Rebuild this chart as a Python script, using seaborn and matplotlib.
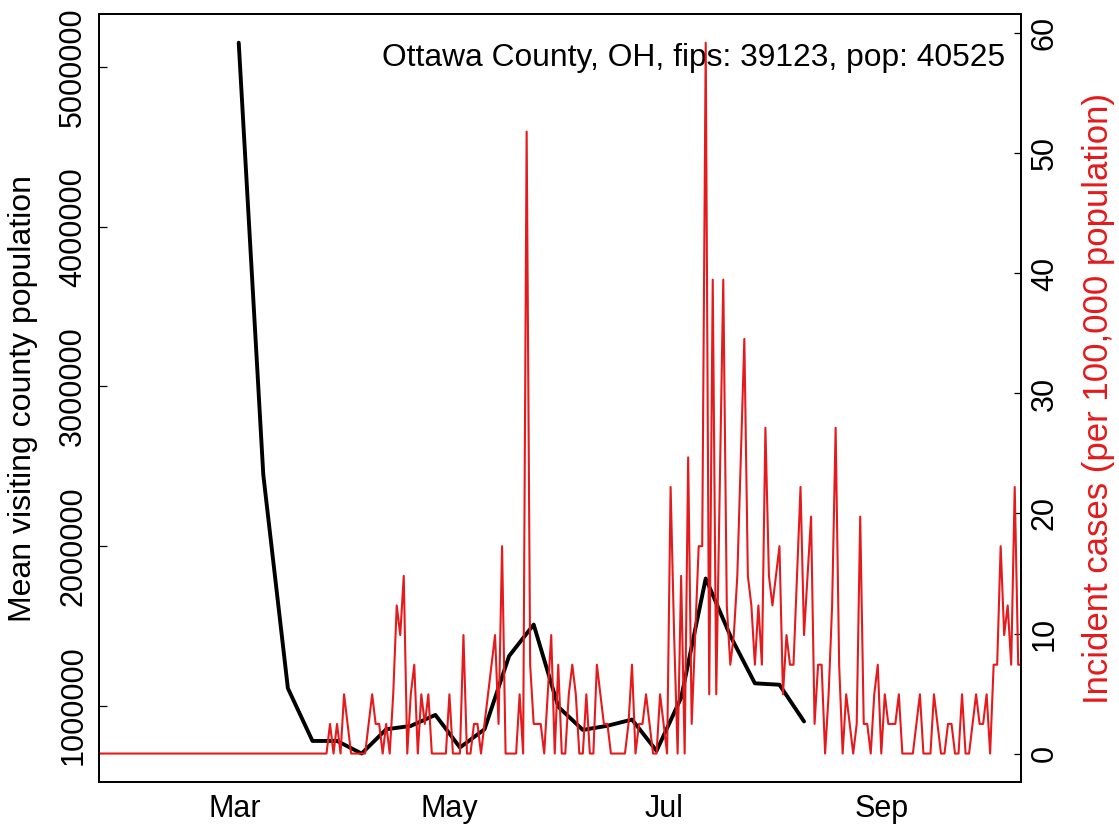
import numpy as np
import pandas as pd
import matplotlib
matplotlib.use("Agg")
import matplotlib.pyplot as plt
import matplotlib.dates as mdates
import seaborn as sns

sns.set_style("white")
plt.rcParams['font.family'] = ['Liberation Sans', 'DejaVu Sans']
plt.rcParams['text.color'] = 'black'
plt.rcParams['axes.labelcolor'] = 'black'
plt.rcParams['xtick.color'] = 'black'
plt.rcParams['ytick.color'] = 'black'

county_label = "Ottawa County, OH, fips: 39123, pop: 40525"
county_pop = 40525
red = "#E41A1C"

# weekly mean visiting county population, Mondays from 2020-03-02
visit_start = "2020-03-02"
visit_pop = [5153000, 2445000, 1108000, 778000, 778000, 699000, 851000, 872000,
             941000, 737000, 851000, 1310000, 1507000, 992000, 847000, 873000,
             912000, 716000, 1049000, 1796000, 1437000, 1139000, 1130000, 900000]

# daily new cases from 2020-01-22
case_start = "2020-01-22"
cases_jan_feb = [0, 0, 0, 0, 0, 0, 0, 0, 0, 0,
                 0, 0, 0, 0, 0, 0, 0, 0, 0, 0, 0, 0, 0, 0, 0, 0, 0, 0, 0,
                 0, 0, 0, 0, 0, 0, 0, 0, 0, 0]
cases_mar = [0, 0, 0, 0, 0, 0, 0, 0, 0, 0, 0, 0, 0, 0, 0, 0, 0, 0, 0, 0,
             0, 0, 0, 0, 0, 0, 0, 1, 0, 1, 0]
cases_apr = [2, 1, 0, 0, 0, 0, 0, 1, 2, 1, 1, 0, 1, 0, 2, 5, 4, 6, 0, 2,
             3, 0, 2, 1, 2, 0, 0, 0, 0, 0]
cases_may = [2, 0, 0, 0, 4, 0, 0, 1, 1, 0, 1, 2, 3, 4, 1, 7, 0, 0, 0, 0,
             2, 0, 21, 3, 1, 1, 1, 0, 2, 4, 0]
cases_jun = [3, 0, 0, 2, 3, 2, 0, 0, 2, 0, 0, 3, 2, 1, 1, 0, 0, 0, 0, 0,
             1, 3, 0, 1, 1, 2, 1, 0, 0, 2]
cases_jul = [1, 0, 9, 4, 0, 6, 0, 10, 1, 4, 7, 7, 24, 2, 16, 2, 9, 16, 5, 3,
             4, 6, 10, 14, 6, 5, 3, 5, 3, 11, 6]
cases_aug = [5, 6, 7, 2, 4, 3, 3, 6, 9, 4, 6, 8, 1, 3, 3, 0, 2, 5, 11, 3,
             0, 2, 1, 0, 1, 8, 1, 1, 0, 2, 3]
cases_sep = [0, 2, 1, 1, 1, 2, 0, 0, 0, 0, 1, 2, 0, 0, 0, 2, 1, 0, 0, 1,
             1, 0, 0, 2, 0, 0, 1, 2, 1, 1]
cases_oct = [2, 0, 3, 3, 7, 4, 5, 3, 9, 3, 3]

cases = cases_jan_feb + cases_mar + cases_apr + cases_may + cases_jun + cases_jul + cases_aug + cases_sep + cases_oct
case_dates = pd.date_range(case_start, periods=len(cases), freq="D")
incidence = np.array(cases) * 1e5 / county_pop
visit_dates = pd.date_range(visit_start, periods=len(visit_pop), freq="7D")


def r_range(lo, hi):
    # R style 4% padding
    d = (hi - lo) * 0.04
    return lo - d, hi + d


fig = plt.figure(figsize=(11.19, 8.31), dpi=100)
ax = fig.add_axes([0.0887, 0.0590, 0.8235, 0.9238])

sns.lineplot(x=visit_dates, y=visit_pop, ax=ax, color="black", linewidth=2.8,
             solid_joinstyle="round", solid_capstyle="round")
ax2 = ax.twinx()
sns.lineplot(x=case_dates, y=incidence, ax=ax2, color=red, linewidth=1.5)

x0, x1 = r_range(mdates.date2num(pd.Timestamp("2020-02-01")), mdates.date2num(pd.Timestamp("2020-10-01")))
ax.set_xlim(x0, x1)
ax.set_ylim(*r_range(min(visit_pop), max(visit_pop)))
ax2.set_ylim(*r_range(0, max(incidence)))

ax.xaxis.set_major_locator(mdates.MonthLocator(bymonth=[3, 5, 7, 9]))
ax.xaxis.set_major_formatter(mdates.DateFormatter("%b"))

left_ticks = [1000000, 2000000, 3000000, 4000000, 5000000]
ax.set_yticks(left_ticks)
ax.set_yticklabels([str(t) for t in left_ticks], rotation=90, va="center")
right_ticks = [0, 10, 20, 30, 40, 50, 60]
ax2.set_yticks(right_ticks)
ax2.set_yticklabels([str(t) for t in right_ticks], rotation=90, va="center")

ax.tick_params(axis="x", direction="in", length=5.4, width=0.9, labelsize=22, pad=8.5, color="black")
ax.tick_params(axis="y", direction="in", length=5.4, width=0.9, labelsize=22, pad=8, color="black")
ax2.tick_params(axis="y", direction="in", length=5.4, width=0.9, labelsize=22, pad=6.5, color="black")

ax.set_xlabel("")
ax.set_ylabel("Mean visiting county population", fontsize=23)
ax.yaxis.set_label_coords(-0.066, 0.5)
ax2.set_ylabel("Incident cases (per 100,000 population)", fontsize=25, color=red)
ax2.yaxis.set_label_coords(1.0665, 0.5)

for a in (ax, ax2):
    for s in a.spines.values():
        s.set_color("black")
        s.set_linewidth(1.3)

ax.text(0.983, 0.9327, county_label, transform=ax.transAxes, ha="right", va="baseline", fontsize=22.9)

fig.savefig("out.png", dpi=100)
